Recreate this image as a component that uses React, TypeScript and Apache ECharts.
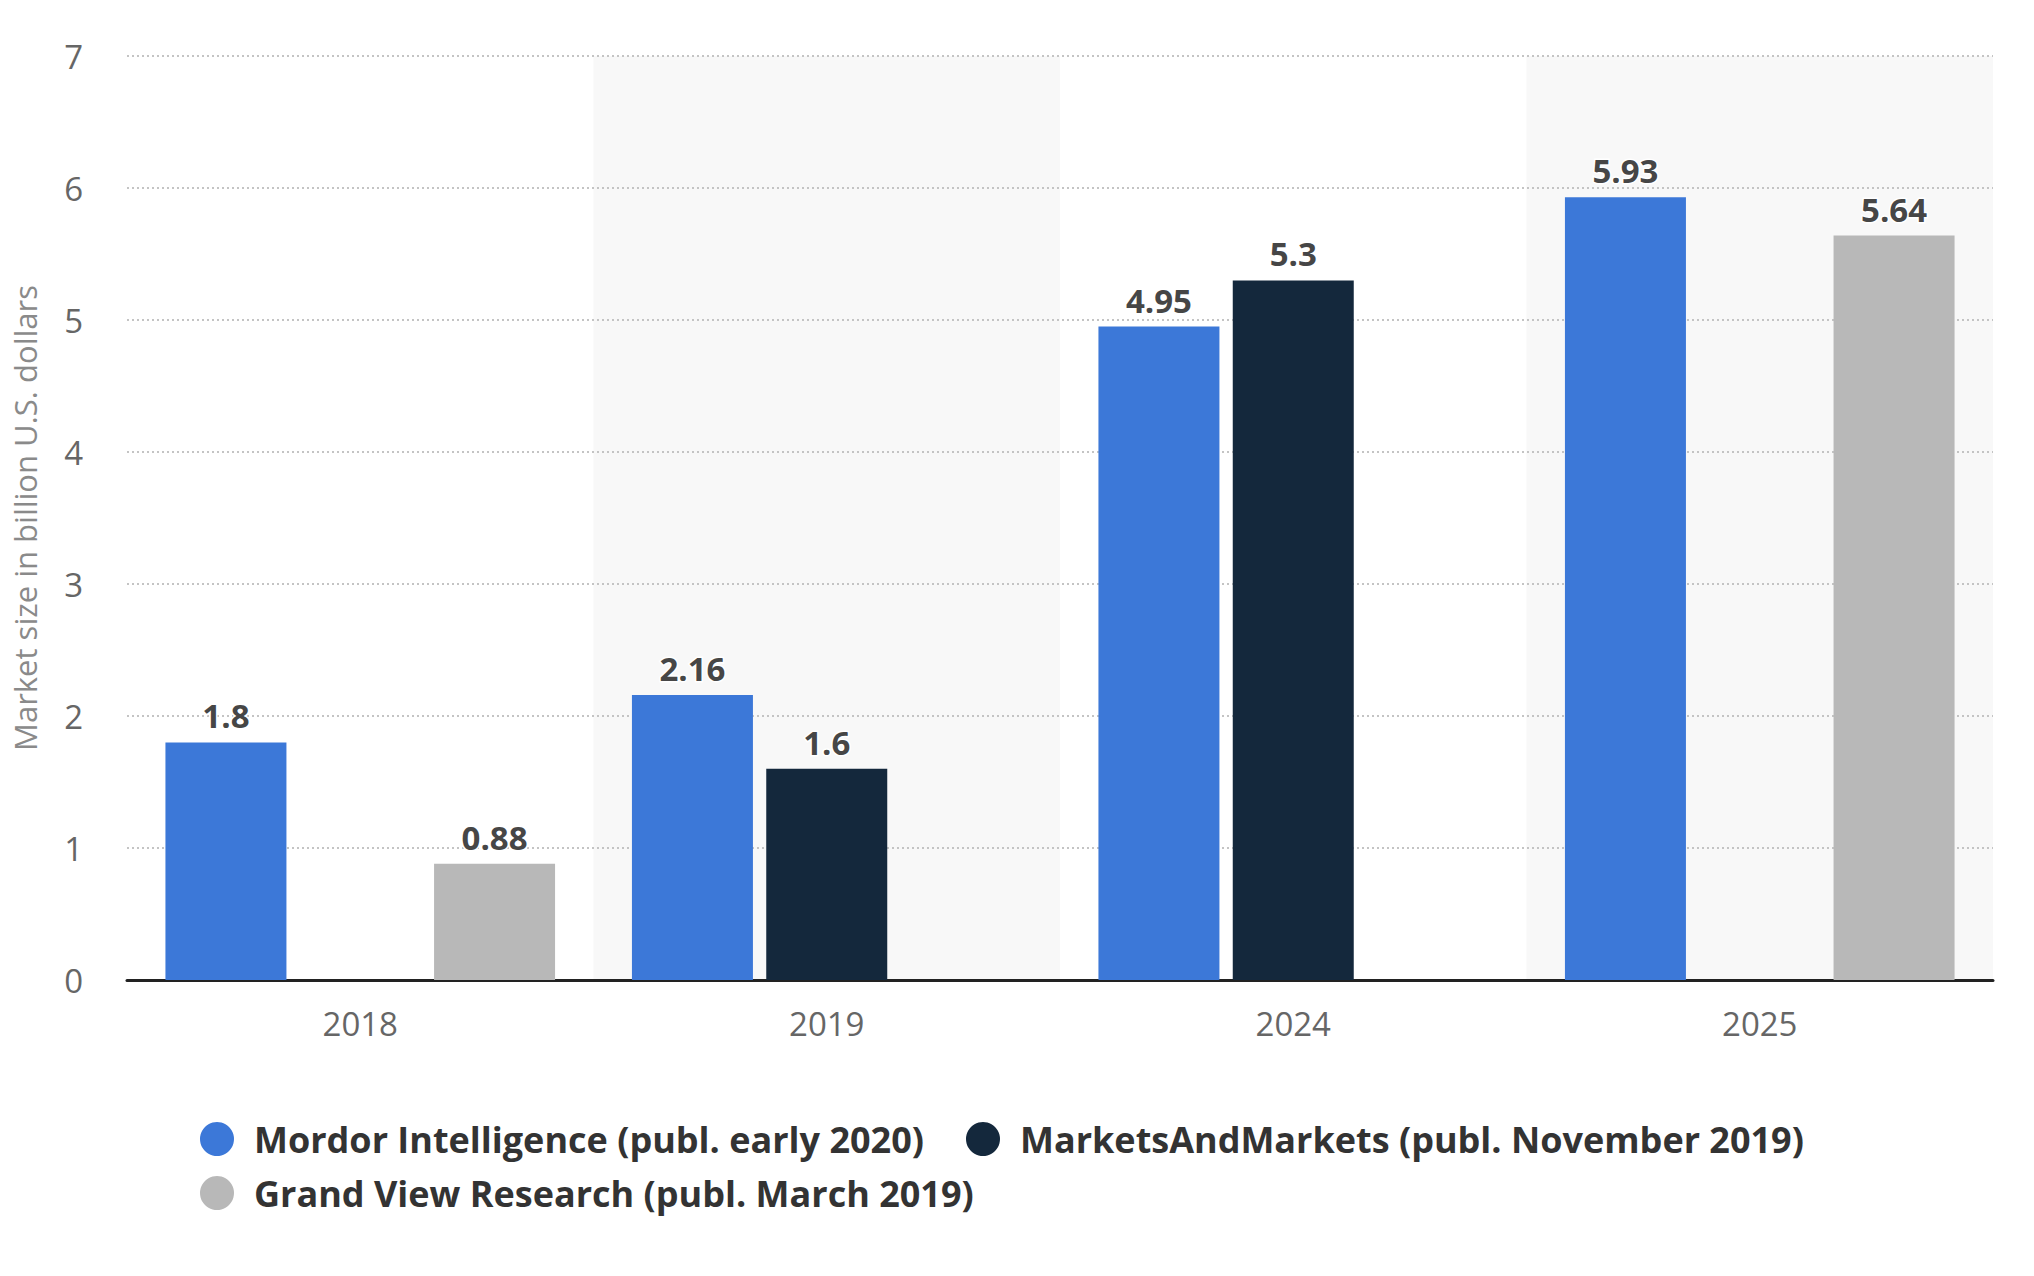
import React, { useEffect, useRef } from "react";
import * as echarts from "echarts";

const categories = ["2018", "2019", "2024", "2025"];
const mordorValues = [1.8, 2.16, 4.95, 5.93];
const marketsValues = [null, 1.6, 5.3, null];
const grandViewValues = [0.88, null, null, 5.64];
const seriesNames = [
  "Mordor Intelligence (publ. early 2020)",
  "MarketsAndMarkets (publ. November 2019)",
  "Grand View Research (publ. March 2019)",
];
const seriesColors = ["#3c78d8", "#14283c", "#b8b8b8"];
const yTicks = [0, 1, 2, 3, 4, 5, 6, 7];

const FONT = "'Open Sans', sans-serif";

export default function App() {
  const ref = useRef<HTMLDivElement>(null);
  useEffect(() => {
    if (!ref.current) return;
    const chart = echarts.init(ref.current, undefined, { renderer: "svg" });
    const label = {
      show: true,
      position: "top",
      distance: 10,
      fontFamily: FONT,
      fontSize: 33,
      fontWeight: "bold",
      color: "#464646",
      textBorderColor: "#fff",
      textBorderWidth: 3,
    };
    const values = [mordorValues, marketsValues, grandViewValues];
    const legendBase = {
      orient: "horizontal",
      padding: 0,
      icon: "circle",
      itemWidth: 64,
      itemHeight: 34,
      selectedMode: false,
      textStyle: {
        fontFamily: FONT,
        fontSize: 36,
        fontWeight: "bold",
        color: "#333",
        lineHeight: 34,
      },
    };
    chart.setOption({
      animation: false,
      backgroundColor: "#fff",
      grid: { left: 127, right: 41, top: 56, bottom: 296, containLabel: false },
      legend: [
        { ...legendBase, data: [seriesNames[0]], left: 200, top: 1121 },
        { ...legendBase, data: [seriesNames[1]], left: 966, top: 1121 },
        { ...legendBase, data: [seriesNames[2]], left: 200, top: 1175 },
      ],
      xAxis: {
        type: "category",
        data: categories,
        z: 0,
        axisLine: { show: true, lineStyle: { color: "#222", width: 3 } },
        axisTick: { show: false },
        axisLabel: {
          fontFamily: FONT,
          fontSize: 33,
          color: "#666",
          margin: 27,
          lineHeight: 33,
        },
        splitLine: { show: false },
        splitArea: {
          show: true,
          areaStyle: { color: ["rgba(255,255,255,0)", "#f8f8f8"] },
        },
      },
      yAxis: {
        type: "value",
        min: yTicks[0],
        max: yTicks[yTicks.length - 1],
        interval: 1,
        z: 1,
        name: "Market size in billion U.S. dollars",
        nameLocation: "middle",
        nameGap: 87,
        nameTextStyle: {
          fontFamily: FONT,
          fontSize: 31,
          color: "#8a8a8a",
        },
        axisLine: { show: false },
        axisTick: { show: false },
        axisLabel: {
          fontFamily: FONT,
          fontSize: 33,
          color: "#666",
          margin: 44,
        },
        splitLine: {
          show: true,
          showMinLine: false,
          lineStyle: { color: "#c4c4c4", width: 2, type: [2, 3] },
        },
      },
      series: seriesNames.map((name, i) => ({
        name,
        type: "bar",
        data: values[i],
        barWidth: 121,
        barGap: "11%",
        itemStyle: { color: seriesColors[i] },
        label,
        z: 3,
      })),
    });
    return () => chart.dispose();
  }, []);
  return (
    <div
      ref={ref}
      style={{ position: "fixed", left: 0, top: 0, width: 2034, height: 1276 }}
    />
  );
}
